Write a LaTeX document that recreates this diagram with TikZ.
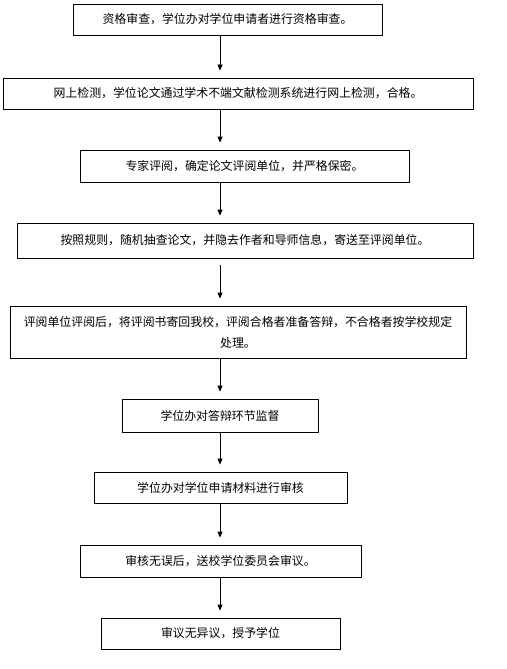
\documentclass[tikz,border=0pt]{standalone}
\usepackage{fontspec}
\newfontfamily\cjk{Noto Sans CJK SC}
\usetikzlibrary{arrows.meta}
\begin{document}
\begin{tikzpicture}[x=1pt,y=-1pt,
  box/.style={draw=black,line width=0.8pt,fill=white,inner sep=0pt,align=center,
    font=\cjk\fontsize{11.9}{21}\selectfont},
  arr/.style={draw=black,line width=0.8pt,-{Triangle[length=6pt,width=5pt]},shorten >=7pt}]
\useasboundingbox (0,0) rectangle (506,669);
\fill[white] (0,0) rectangle (506,669);
\coordinate (ax) at (220,0);
\node[box,minimum width=309pt,minimum height=31pt] (b1) at (227.5,19.5) {资格审查，学位办对学位申请者进行资格审查。};
\node[box,minimum width=470pt,minimum height=31pt] (b2) at (238,93.5) {网上检测，学位论文通过学术不端文献检测系统进行网上检测，合格。};
\node[box,minimum width=329pt,minimum height=32pt] (b3) at (244.5,166) {专家评阅，确定论文评阅单位，并严格保密。};
\node[box,minimum width=456pt,minimum height=35pt] (b4) at (245,240.5) {按照规则，随机抽查论文，并隐去作者和导师信息，寄送至评阅单位。};
\node[box,minimum width=456pt,minimum height=52pt] (b5) at (238,332) {评阅单位评阅后，将评阅书寄回我校，评阅合格者准备答辩，不合格者按学校规定\\处理。};
\node[box,minimum width=196pt,minimum height=33pt] (b6) at (220,415.5) {学位办对答辩环节监督};
\node[box,minimum width=253pt,minimum height=31pt] (b7) at (220.5,487.5) {学位办对学位申请材料进行审核};
\node[box,minimum width=281pt,minimum height=32pt] (b8) at (220.5,561) {审核无误后，送校学位委员会审议。};
\node[box,minimum width=239pt,minimum height=31pt] (b9) at (220.5,633.5) {审议无异议，授予学位};
\draw[arr] (b1.south -| ax) -- (b2.north -| ax);
\draw[arr] (b2.south -| ax) -- (b3.north -| ax);
\draw[arr] (b3.south -| ax) -- (b4.north -| ax);
\draw[arr,shorten <=7pt] (b4.south -| ax) -- (b5.north -| ax);
\draw[arr] (b5.south -| ax) -- (b6.north -| ax);
\draw[arr] (b6.south -| ax) -- (b7.north -| ax);
\draw[arr] (b7.south -| ax) -- (b8.north -| ax);
\draw[arr] (b8.south -| ax) -- (b9.north -| ax);
\end{tikzpicture}
\end{document}
